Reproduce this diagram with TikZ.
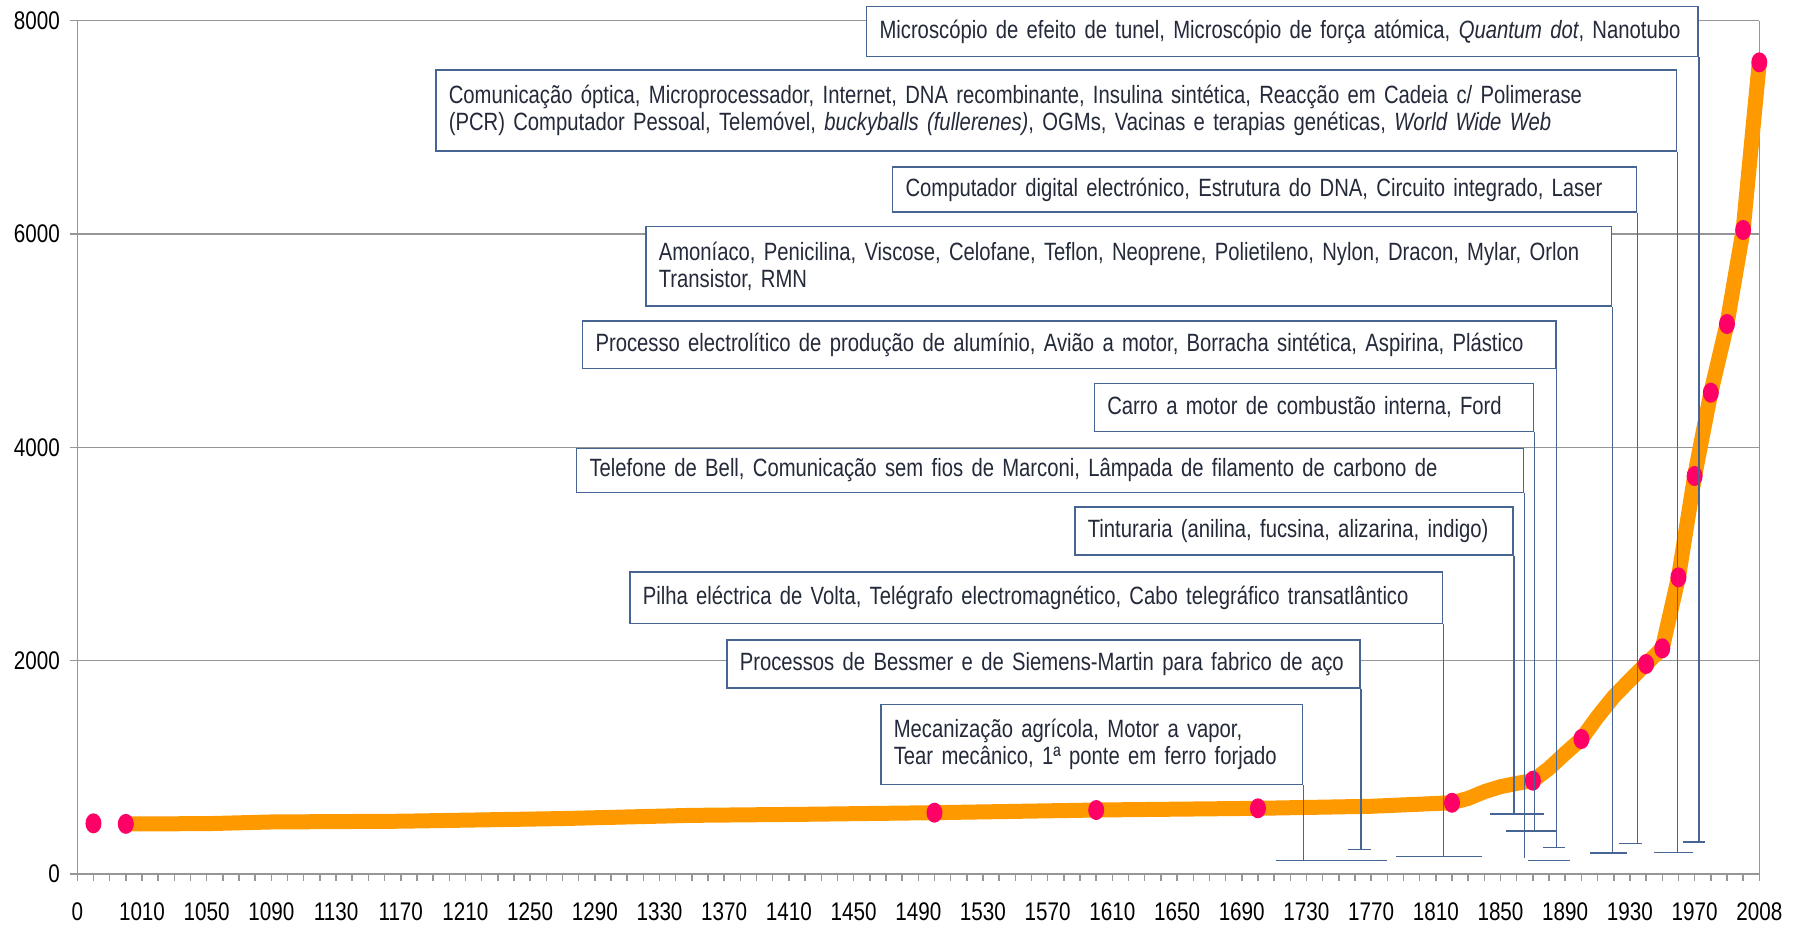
\documentclass[tikz,border=0pt]{standalone}
\usepackage{fontspec}
\setmainfont{Liberation Sans}[FakeStretch=0.81]
\usepackage{tikz}
\usetikzlibrary{shapes.geometric}
\definecolor{boxblue}{RGB}{70,100,148}
\definecolor{gridgray}{RGB}{150,150,150}
\definecolor{curveorange}{RGB}{255,153,0}
\definecolor{dotpink}{RGB}{255,0,102}
\definecolor{textgray}{RGB}{36,42,58}
\newcommand{\boxfont}{\fontsize{25pt}{27.3pt}\selectfont}
\newcommand{\axisfont}{\fontsize{25.5pt}{28pt}\selectfont}

\begin{document}
\begin{tikzpicture}[x=1pt,y=-1pt,
    grid line/.style={gridgray,line width=1.5pt},
    callout/.style={draw=boxblue,line width=1.6pt,fill=white,anchor=north west,inner xsep=13pt,inner ysep=0pt,align=left,text=textgray,font=\boxfont},
    leader/.style={boxblue,line width=1.5pt},
    dot/.style={ellipse,fill=dotpink,inner sep=0pt,minimum width=16pt,minimum height=20pt}]
  \useasboundingbox (0,0) rectangle (1796,924);

  % grid and axes
  \foreach \v/\y in {0/874,2000/660.7,4000/447.3,6000/234,8000/20.7} {
    \draw[grid line] (70,\y) -- (1759.3,\y);
    \node[anchor=east,font=\axisfont,inner sep=0pt] (y\v) at (60,\y) {\v};
  }
  \draw[grid line] (77.3,20.7) -- (77.3,874);
  \draw[grid line] (1759.3,20.7) -- (1759.3,874);
  \foreach \i in {0,...,104} \draw[grid line] (77.3+16.173*\i,874) -- ++(0,7);
  \node[font=\axisfont,inner sep=0pt] (x0) at (77.3,911.7) {0};
  \foreach \k in {1,...,25} {
    \pgfmathtruncatemacro{\yr}{970+40*\k}
    \node[font=\axisfont,inner sep=0pt] (x\yr) at (77.3+64.69*\k,911.7) {\yr};
  }
  \node[font=\axisfont,inner sep=0pt] (x2008) at (1759.3,911.7) {2008};

  % the curve
  \begin{scope}[shift={(77.3pt,-874pt)},x=16.173pt,y=0.10665pt]
    \draw[curveorange,line width=15pt,line join=round] plot coordinates {(3,470) (8,472) (12,488) (20,495) (30,520) (38,550) (45,560) (53,575) (63,600) (73,616) (80,635) (85,668) (86,709) (87,772) (88,819) (89,850) (90,875) (91,991) (92,1132) (93,1266) (94,1475) (95,1663) (96,1819) (97,1969) (98,2116) (99,2782) (100,3732) (101,4513) (102,5157) (103,6039) (104,7611)};
    \foreach \i/\v in {1/475,3/470,53/575,63/600,73/616,85/668,90/875,93/1266,97/1969,98/2116,99/2782,100/3732,101/4513,102/5157,103/6039,104/7611}
      \node[dot] (p\i) at (\i,\v) {};
  \end{scope}

  % callouts
  \node[callout,text width=805.6pt,minimum height=50pt] (tunel) at (865.7,5.7) {Microscópio de efeito de tunel, Microscópio de força atómica, \textit{Quantum dot}, Nanotubo};
  \node[callout,text width=1214.7pt,minimum height=81pt] (optica) at (435,69) {Comunicação óptica, Microprocessador, Internet, DNA recombinante, Insulina sintética, Reacção em Cadeia c/ Polimerase\\(PCR) Computador Pessoal, Telemóvel, \textit{buckyballs (fullerenes)}, OGMs, Vacinas e terapias genéticas, \textit{World Wide Web}};
  \node[callout,text width=718pt,minimum height=44.7pt] (laser) at (891.7,166.3) {Computador digital electrónico, Estrutura do DNA, Circuito integrado, Laser};
  \node[callout,text width=939.7pt,minimum height=79.3pt] (nylon) at (645,225.7) {Amoníaco, Penicilina, Viscose, Celofane, Teflon, Neoprene, Polietileno, Nylon, Dracon, Mylar, Orlon\\Transistor, RMN};
  \node[callout,text width=947.3pt,minimum height=47.7pt] (aluminio) at (581.7,320) {Processo electrolítico de produção de alumínio, Avião a motor, Borracha sintética, Aspirina, Plástico};
  \node[callout,text width=413.2pt,minimum height=48pt] (ford) at (1093.5,382.5) {Carro a motor de combustão interna, Ford};
  \node[callout,text width=921pt,minimum height=44pt] (telefone) at (575.7,447.7) {Telefone de Bell, Comunicação sem fios de Marconi, Lâmpada de filamento de carbono de};
  \node[callout,text width=412.3pt,minimum height=48pt] (tinturaria) at (1074,506.3) {Tinturaria (anilina, fucsina, alizarina, indigo)};
  \node[callout,text width=786.7pt,minimum height=51.5pt] (volta) at (629,571) {Pilha eléctrica de Volta, Telégrafo electromagnético, Cabo telegráfico transatlântico};
  \node[callout,text width=607.3pt,minimum height=48pt] (aco) at (726,639.3) {Processos de Bessmer e de Siemens-Martin para fabrico de aço};
  \node[callout,text width=395.7pt,minimum height=80pt] (vapor) at (880,703.5) {Mecanização agrícola, Motor a vapor,\\Tear mecânico, 1ª ponte em ferro forjado};

  % leaders and brackets
  \coordinate (tunel-l) at (1682.7,842);   \coordinate (tunel-r) at (1705,842);
  \coordinate (optica-l) at (1654.3,852.7); \coordinate (optica-r) at (1692.7,852.7);
  \coordinate (laser-l) at (1619,843.7);   \coordinate (laser-r) at (1641.7,843.7);
  \coordinate (nylon-l) at (1590,853);     \coordinate (nylon-r) at (1627.3,853);
  \coordinate (aluminio-l) at (1542.7,847.5); \coordinate (aluminio-r) at (1565,847.5);
  \coordinate (ford-l) at (1506,831);      \coordinate (ford-r) at (1556,831);
  \coordinate (telefone-e) at (1523,857.5);
  \coordinate (telefone-l) at (1528,860.7); \coordinate (telefone-r) at (1570,860.7);
  \coordinate (tinturaria-l) at (1490,814); \coordinate (tinturaria-r) at (1544,814);
  \coordinate (volta-l) at (1396,856.7);   \coordinate (volta-r) at (1481.7,856.7);
  \coordinate (aco-l) at (1348.3,849.3);   \coordinate (aco-r) at (1370.7,849.3);
  \coordinate (vapor-l) at (1275.7,860.7); \coordinate (vapor-r) at (1387.3,860.7);
  \foreach \c in {tunel,optica,laser,nylon,aluminio,ford,tinturaria,volta,aco,vapor}
    \path[leader] (\c.south east) edge (\c.south east |- \c-l) (\c-l) edge (\c-r);
  \path[leader] (telefone.south east) edge (telefone.south east |- telefone-e) (telefone-l) edge (telefone-r);
\end{tikzpicture}
\end{document}
